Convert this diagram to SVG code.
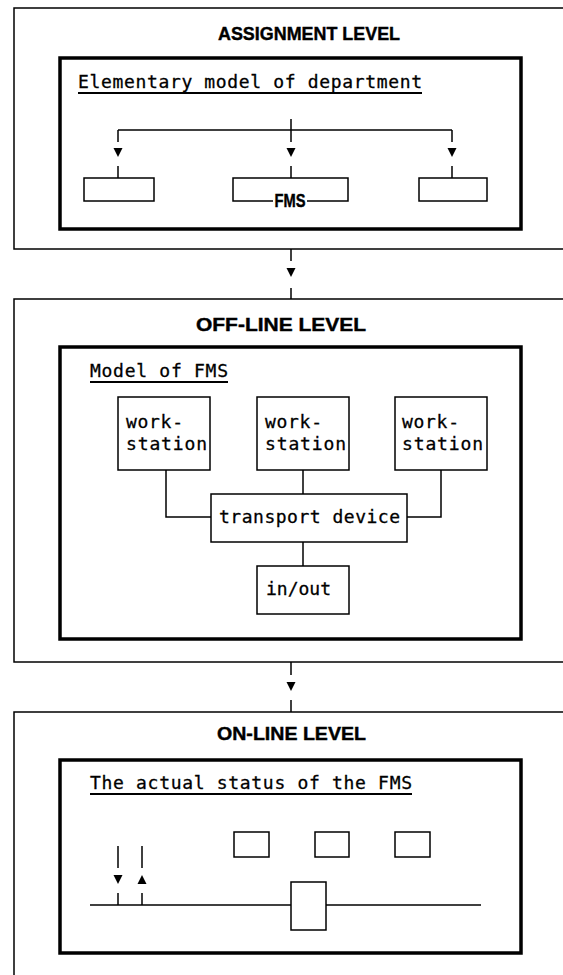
<svg xmlns="http://www.w3.org/2000/svg" width="563" height="975" viewBox="0 0 563 975">
<style>
  .outer { fill: none; stroke: #000; stroke-width: 1.5; }
  .inner { fill: none; stroke: #000; stroke-width: 3.5; }
  .box { fill: #fff; stroke: #000; stroke-width: 1.5; }
  .ln { fill: none; stroke: #000; stroke-width: 1.5; }
  .ul { stroke: #000; stroke-width: 2; }
  .title { font-family: "Liberation Sans", Arial, sans-serif; font-weight: bold; font-size: 18px; fill: #000; stroke: #000; stroke-width: 0.4; }
  .txt { font-family: "DejaVu Sans Mono", "Liberation Mono", monospace; font-size: 18px; fill: #000; stroke: #000; stroke-width: 0.3; }
</style>
<defs>
  <path id="ad" d="M-4.5,0 L4.5,0 L0,9 Z" fill="#000"/>
  <path id="au" d="M-4.5,9 L4.5,9 L0,0 Z" fill="#000"/>
</defs>
<rect width="563" height="975" fill="#fff"/>

<g id="assignment-level">
  <rect class="outer" x="14" y="8" width="600" height="241"/>
  <text class="title" x="218" y="40" textLength="182" lengthAdjust="spacingAndGlyphs">ASSIGNMENT LEVEL</text>
  <rect class="inner" x="60" y="58" width="461" height="171"/>
  <text class="txt" x="78" y="88" textLength="344" lengthAdjust="spacing">Elementary model of department</text>
  <line class="ul" x1="78" y1="93" x2="422" y2="93"/>
</g>
<g id="dept-box-left"><rect class="box" x="84" y="178" width="70" height="23"/></g>
<g id="dept-box-fms">
  <path class="ln" d="M273,201 H233 V178 H348 V201 H307"/>
  <text class="title" x="290" y="207" text-anchor="middle" textLength="31" lengthAdjust="spacingAndGlyphs" font-size="19">FMS</text>
</g>
<g id="dept-box-right"><rect class="box" x="419" y="178" width="68" height="23"/></g>

<g id="offline-level">
  <rect class="outer" x="14" y="299" width="600" height="363"/>
  <text class="title" x="196" y="331" textLength="170" lengthAdjust="spacingAndGlyphs">OFF-LINE LEVEL</text>
  <rect class="inner" x="60" y="347" width="461" height="292"/>
  <text class="txt" x="90" y="377" textLength="138" lengthAdjust="spacing">Model of FMS</text>
  <line class="ul" x1="90" y1="382" x2="228" y2="382"/>
</g>
<g id="ws-left">
  <rect class="box" x="118" y="397" width="92" height="73"/>
  <text class="txt" x="126" y="428" textLength="57" lengthAdjust="spacing">work-</text>
  <text class="txt" x="126" y="450" textLength="81" lengthAdjust="spacing">station</text>
</g>
<g id="ws-middle">
  <rect class="box" x="257" y="397" width="92" height="73"/>
  <text class="txt" x="265" y="428" textLength="57" lengthAdjust="spacing">work-</text>
  <text class="txt" x="265" y="450" textLength="81" lengthAdjust="spacing">station</text>
</g>
<g id="ws-right">
  <rect class="box" x="395" y="397" width="92" height="73"/>
  <text class="txt" x="402" y="428" textLength="57" lengthAdjust="spacing">work-</text>
  <text class="txt" x="402" y="450" textLength="81" lengthAdjust="spacing">station</text>
</g>
<g id="transport">
  <rect class="box" x="211" y="494" width="196" height="48"/>
  <text class="txt" x="219" y="523" textLength="181" lengthAdjust="spacing">transport device</text>
</g>
<g id="inout">
  <rect class="box" x="257" y="566" width="92" height="48"/>
  <text class="txt" x="266" y="595" textLength="65" lengthAdjust="spacing">in/out</text>
</g>

<g id="online-level">
  <rect class="outer" x="14" y="712" width="600" height="300"/>
  <text class="title" x="217" y="740" textLength="149" lengthAdjust="spacingAndGlyphs">ON-LINE LEVEL</text>
  <rect class="inner" x="60" y="760" width="461" height="193"/>
  <text class="txt" x="90" y="789" textLength="322" lengthAdjust="spacing">The actual status of the FMS</text>
  <line class="ul" x1="90" y1="794" x2="412" y2="794"/>
</g>
<g id="status-box-1"><rect class="box" x="234" y="832" width="35" height="25"/></g>
<g id="status-box-2"><rect class="box" x="315" y="832" width="34" height="25"/></g>
<g id="status-box-3"><rect class="box" x="395" y="832" width="35" height="25"/></g>

<g id="connectors">
  <line class="ln" x1="291" y1="119" x2="291" y2="142"/>
  <line class="ln" x1="118" y1="130" x2="452" y2="130"/>
  <line class="ln" x1="118" y1="130" x2="118" y2="142"/>
  <line class="ln" x1="452" y1="130" x2="452" y2="142"/>
  <use href="#ad" x="118" y="148"/>
  <use href="#ad" x="291" y="148"/>
  <use href="#ad" x="452" y="148"/>
  <line class="ln" x1="118" y1="166" x2="118" y2="178"/>
  <line class="ln" x1="291" y1="166" x2="291" y2="178"/>
  <line class="ln" x1="452" y1="166" x2="452" y2="178"/>
  <line class="ln" x1="291" y1="249" x2="291" y2="261"/>
  <use href="#ad" x="291" y="268"/>
  <line class="ln" x1="291" y1="288" x2="291" y2="299"/>
  <line class="ln" x1="291" y1="662" x2="291" y2="675"/>
  <use href="#ad" x="291" y="682"/>
  <line class="ln" x1="291" y1="700" x2="291" y2="712"/>
  <path class="ln" d="M166,470 V517 H211"/>
  <line class="ln" x1="303" y1="470" x2="303" y2="494"/>
  <path class="ln" d="M441,470 V517 H407"/>
  <line class="ln" x1="303" y1="542" x2="303" y2="566"/>
  <line class="ln" x1="90" y1="905" x2="481" y2="905"/>
  <line class="ln" x1="118" y1="846" x2="118" y2="868"/>
  <use href="#ad" x="118" y="875"/>
  <line class="ln" x1="118" y1="893" x2="118" y2="905"/>
  <line class="ln" x1="142" y1="846" x2="142" y2="868"/>
  <use href="#au" x="142" y="875"/>
  <line class="ln" x1="142" y1="893" x2="142" y2="905"/>
</g>
<g id="status-center-box"><rect class="box" x="291" y="882" width="35" height="48"/></g>
</svg>
